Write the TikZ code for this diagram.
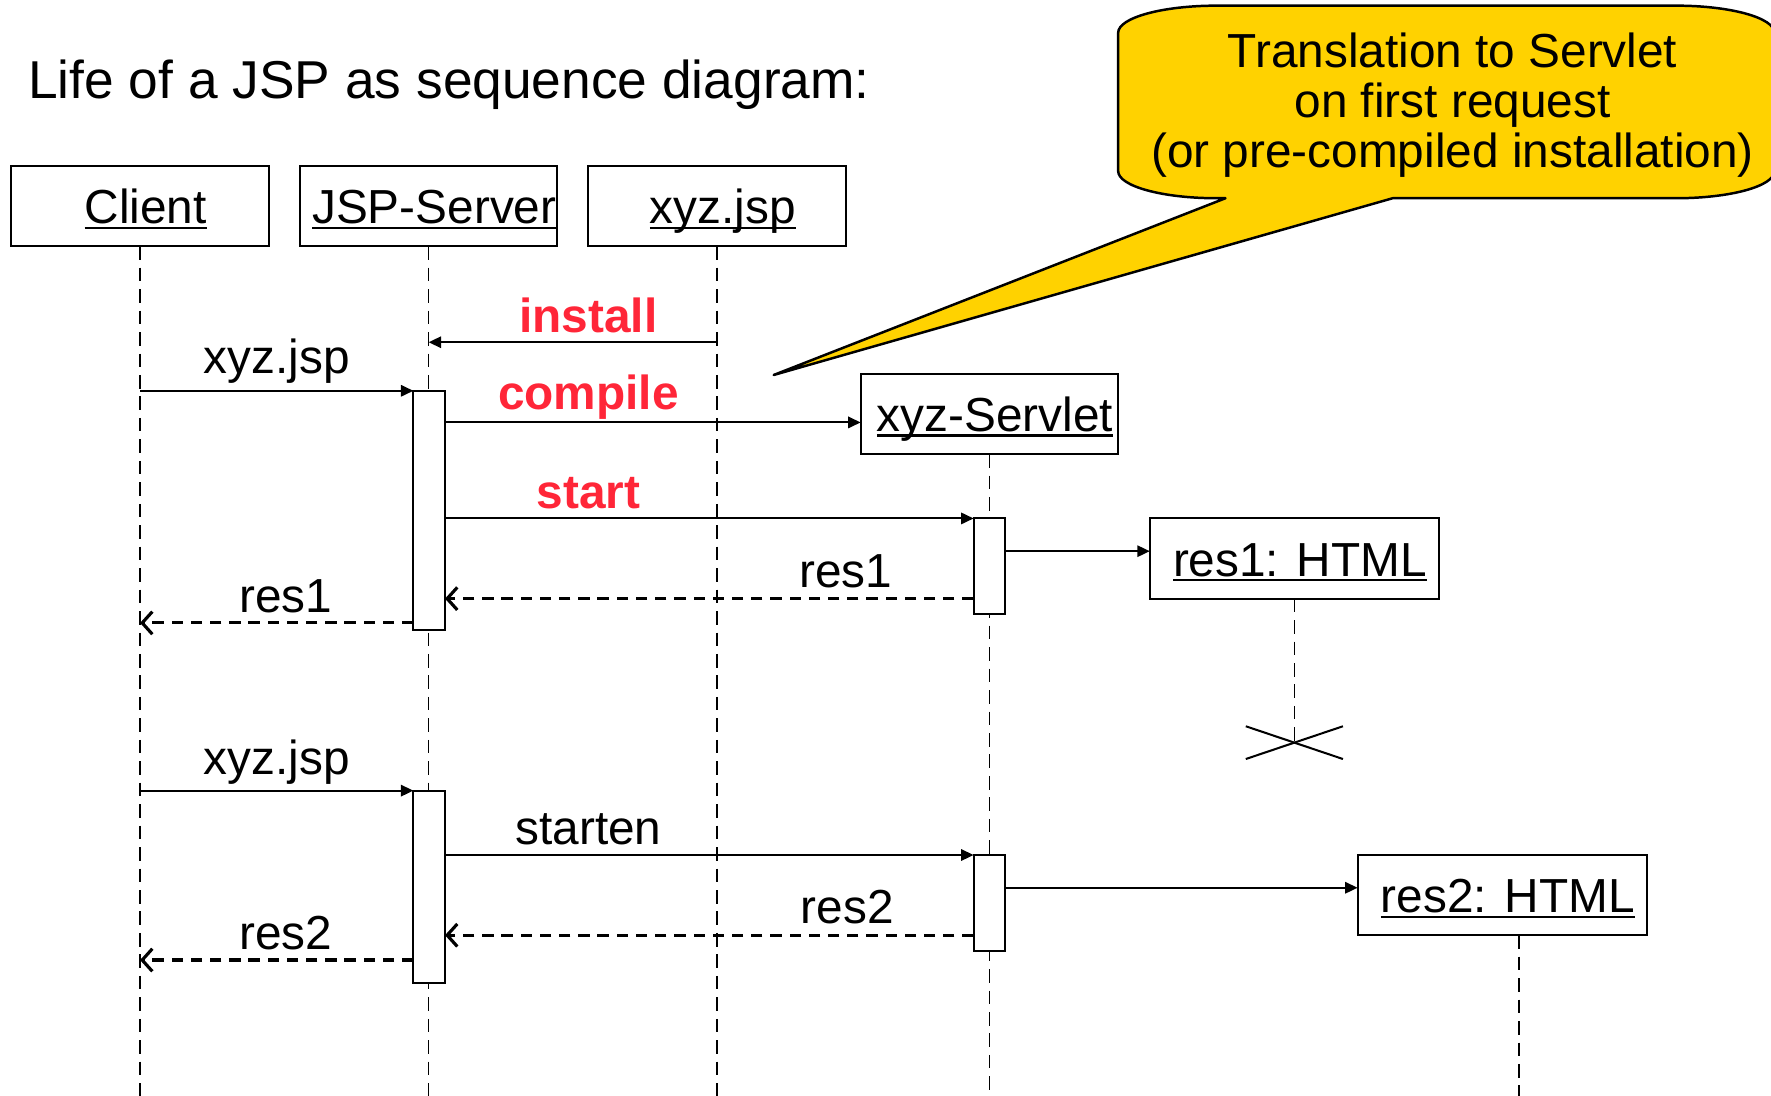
\documentclass[tikz,border=0pt]{standalone}
\usepackage{fontspec}
\setmainfont{Liberation Sans}
\usetikzlibrary{arrows.meta}
\definecolor{jspred}{RGB}{255,38,56}
\definecolor{calloutyellow}{RGB}{255,210,0}
\newcommand\ulin[1]{\setbox0=\hbox{#1}\rlap{\rule[-2.4pt]{\wd0}{1.1pt}}\box0}
\newcommand\boxtxt[1]{\hspace*{5pt}\ulin{#1}}
\begin{document}
\begin{tikzpicture}[x=0.5pt,y=-0.5pt,
  every node/.style={font=\fontsize{21.15pt}{22pt}\selectfont, inner sep=0pt, outer sep=0pt},
  objbox/.style={draw, fill=white, line width=0.9pt, minimum width=114pt, minimum height=35.5pt, text height=15.5pt, text depth=0pt},
  resbox/.style={objbox, minimum width=128pt},
  actbar/.style={draw, fill=white, line width=0.9pt, minimum width=14pt},
  life/.style={line width=0.7pt, dash pattern=on 6pt off 3.5pt},
  msg/.style={line width=0.9pt, -{Triangle[length=5.5pt,width=5pt]}},
  ret/.style={line width=1.4pt, dash pattern=on 5pt off 3.5pt, -{Straight Barb[length=4.5pt,width=10pt,line width=1.4pt]}},
  lbl/.style={anchor=base},
  redlbl/.style={anchor=base, text=jspred, font=\fontsize{21.15pt}{22pt}\selectfont\bfseries},
  calltext/.style={anchor=base}
]
\useasboundingbox (0,0) rectangle (1568,970);

% title
\node[anchor=base west, font=\fontsize{23.6pt}{25pt}\selectfont] (title) at (25,87.6) {Life of a JSP as sequence diagram:};

% object heads
\node[objbox] (client) at (124,182.5) {\boxtxt{Client}};
\node[objbox] (jsp) at (379.5,182.5) {\boxtxt{JSP-Server}};
\node[objbox] (xyz) at (635,182.5) {\boxtxt{xyz.jsp}};
\node[objbox] (servlet) at (876,366.5) {\boxtxt{xyz-Servlet}};
\node[resbox] (resone) at (1146,494.5) {\boxtxt{res1: HTML}};
\node[resbox] (restwo) at (1330,792.5) {\boxtxt{res2: HTML}};

% lifelines
\coordinate (xend) at (1146,657.5);
\coordinate (restwotop) at (1345,828);
\draw[life] (client.south) -- (client.south |- 0,970);
\draw[life] (jsp.south) -- (jsp.south |- 0,970);
\draw[life] (xyz.south) -- (xyz.south |- 0,970);
\draw[life] (servlet.south) -- (servlet.south |- 0,970);
\draw[life] (resone.south) -- (xend);
\draw[life] (restwotop) -- (restwotop |- 0,970);

% destruction mark
\draw[line width=0.9pt] (xend) ++(-43,-14.5) -- ++(86,29);
\draw[line width=0.9pt] (xend) ++(-43,14.5) -- ++(86,-29);

% activation bars
\node[actbar, minimum height=106pt] (barA) at (380,452) {};
\node[actbar, minimum height=42.5pt] (sbarA) at (876,501.5) {};
\node[actbar, minimum height=85pt] (barB) at (380,785) {};
\node[actbar, minimum height=42.5pt] (sbarB) at (876,799.5) {};

% messages, first request
\draw[msg] (xyz.south |- 0,303) -- (jsp.south |- 0,303);
\node[redlbl] (linstall) at (521,294) {install};
\draw[msg] (client.south |- 0,346) -- (barA.north west);
\node[lbl] (lreqA) at (245,331) {xyz.jsp};
\draw[msg] (barA.east |- 0,374) -- (servlet.west |- 0,374);
\node[redlbl] (lcompile) at (521,362.5) {compile};
\draw[msg] (barA.east |- 0,459) -- (sbarA.north west);
\node[redlbl] (lstart) at (521,450) {start};
\draw[msg] (sbarA.east |- 0,488) -- (resone.west |- 0,488);
\draw[ret] (sbarA.west |- 0,530) -- (barA.east |- 0,530);
\node[lbl] (lresA) at (749,520) {res1};
\draw[ret] (barA.west |- 0,551.5) -- (client.south |- 0,551.5);
\node[lbl] (lresAc) at (253,542) {res1};

% messages, second request
\draw[msg] (client.south |- 0,700) -- (barB.north west);
\node[lbl] (lreqB) at (245,686) {xyz.jsp};
\draw[msg] (barB.east |- 0,757) -- (sbarB.north west);
\node[lbl] (lstarten) at (521,748) {starten};
\draw[msg] (sbarB.east |- 0,786) -- (restwo.west |- 0,786);
\draw[ret] (sbarB.west |- 0,828) -- (barB.east |- 0,828);
\node[lbl] (lresB) at (750,818) {res2};
\draw[ret] (barB.west |- 0,850) -- (client.south |- 0,850);
\node[lbl] (lresBc) at (253,841) {res2};

% callout
\draw[fill=calloutyellow, line width=1.1pt, line join=round]
  (1077,5) -- (1484,5) .. controls (1532,5) and (1571,15.7) .. (1571,29)
  -- (1571,151.5) .. controls (1571,164.8) and (1532,175.5) .. (1484,175.5)
  -- (1233,175.5) -- (685,332) -- (1085,175.5) -- (1077,175.5)
  .. controls (1029,175.5) and (990,164.8) .. (990,151.5)
  -- (990,29) .. controls (990,15.7) and (1029,5) .. (1077,5) -- cycle;
\node[calltext] (cone) at (1286,60) {Translation to Servlet};
\node[calltext] (ctwo) at (1286,104) {on first request};
\node[calltext] (cthree) at (1286,148) {(or pre-compiled installation)};
\end{tikzpicture}
\end{document}
